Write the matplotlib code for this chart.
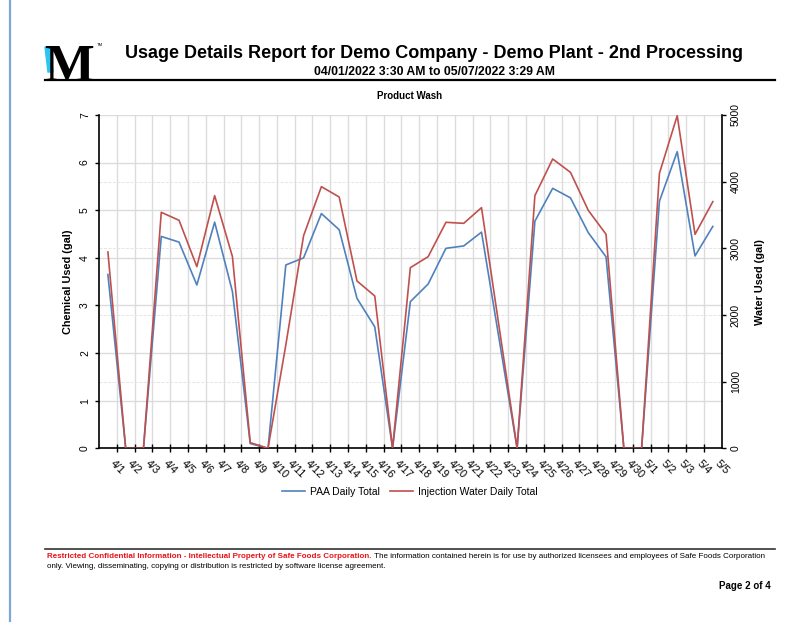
import matplotlib
matplotlib.use("Agg")
import matplotlib.pyplot as plt
from matplotlib.patches import Polygon
from matplotlib.lines import Line2D
import numpy as np

plt.rcParams['font.family'] = ['Liberation Sans', 'DejaVu Sans']

# Daily totals, 4/1 .. 5/5
dates = ["4/1", "4/2", "4/3", "4/4", "4/5", "4/6", "4/7", "4/8", "4/9", "4/10",
         "4/11", "4/12", "4/13", "4/14", "4/15", "4/16", "4/17", "4/18", "4/19", "4/20",
         "4/21", "4/22", "4/23", "4/24", "4/25", "4/26", "4/27", "4/28", "4/29", "4/30",
         "5/1", "5/2", "5/3", "5/4", "5/5"]
paa_gal = [3.65, 0, 0, 4.45, 4.33, 3.43, 4.75, 3.29, 0.1, 0,
           3.85, 4.0, 4.93, 4.59, 3.15, 2.55, 0, 3.08, 3.45, 4.2,
           4.25, 4.54, 2.27, 0, 4.77, 5.46, 5.26, 4.53, 4.02, 0,
           0, 5.19, 6.23, 4.04, 4.66]
water_gal = [2945, 0, 0, 3540, 3420, 2725, 3790, 2875, 85, 0,
             1550, 3190, 3925, 3770, 2510, 2285, 0, 2710, 2875, 3390,
             3375, 3610, 1800, 0, 3790, 4340, 4140, 3570, 3210, 0,
             0, 4125, 4990, 3210, 3700]
chem_ticks = [0, 1, 2, 3, 4, 5, 6, 7]
water_ticks = [0, 1000, 2000, 3000, 4000, 5000]

blue = "#4F81BD"
red = "#C0504D"
W, H = 802, 622

def fx(px):
    return px / W

def fy(py):
    return 1 - py / H

fig = plt.figure(figsize=(W / 100, H / 100), dpi=100)

# page border on the left
fig.add_artist(Line2D([fx(10), fx(10)], [0, 1], color="#7EA6D8", lw=1.6))

# logo
fig.text(fx(44), fy(81), "M", fontsize=38, fontweight="bold",
         family="Liberation Serif", color="black", ha="left", va="baseline")
fig.add_artist(Polygon([(fx(45), fy(47)), (fx(50), fy(47)), (fx(53), fy(72)), (fx(48), fy(72))],
                       closed=True, color="#2EC4F0", transform=fig.transFigure))
fig.text(fx(97), fy(45), "TM", fontsize=3, ha="left", va="center")

# header
fig.text(fx(434), fy(54), "Usage Details Report for Demo Company - Demo Plant - 2nd Processing",
         fontsize=13, fontweight="bold", ha="center", va="center")
fig.text(fx(435), fy(72), "04/01/2022 3:30 AM to 05/07/2022 3:29 AM",
         fontsize=8.8, fontweight="bold", ha="center", va="center")
fig.add_artist(Line2D([fx(45), fx(775)], [fy(79.5), fy(79.5)], color="black", lw=1.6))
fig.text(fx(410), fy(96), "Product Wash", fontsize=7, fontweight="bold",
         ha="center", va="center")

# chart
ax = fig.add_axes([fx(99), fy(448.3), fx(721.7 - 99), (448.3 - 115) / H])
x = np.arange(len(dates))
ax.plot(x, paa_gal, color=blue, lw=1.2, label="PAA Daily Total")
ax.set_xlim(-0.5, len(dates) - 0.5)
ax.set_ylim(0, 7)

ax.set_xticks(x)
ax.set_xticklabels(dates, rotation=-45, ha="left", va="top", fontsize=7.8)
ax.set_xticks(x[:-1] + 0.5, minor=True)
ax.tick_params(axis="x", which="major", length=0, pad=7)
ax.tick_params(axis="x", which="minor", length=6, direction="inout", width=1)

ax.set_yticks(chem_ticks)
ax.set_yticklabels([str(t) for t in chem_ticks], rotation=90, va="center", fontsize=7.5)
ax.set_yticks([t * 7 / 5000 for t in water_ticks[1:-1]], minor=True)
ax.tick_params(axis="y", which="major", length=3, direction="out", width=1)
ax.tick_params(axis="y", which="minor", length=0)

ax.grid(True, axis="x", which="minor", color="#DCDCDC", lw=1)
ax.grid(True, axis="y", which="major", color="#DCDCDC", lw=1)
ax.grid(True, axis="y", which="minor", color="#E2E2E2", lw=0.6, ls="--")
ax.set_axisbelow(True)

for side in ["top", "right"]:
    ax.spines[side].set_visible(False)
for side in ["left", "bottom"]:
    ax.spines[side].set_linewidth(1.2)
    ax.spines[side].set_color("black")

ax.set_ylabel("Chemical Used (gal)", fontsize=7.8, fontweight="bold", labelpad=5)

ax2 = ax.twinx()
ax2.plot(x, water_gal, color=red, lw=1.2, label="Injection Water Daily Total")
ax2.set_ylim(0, 5000)
ax2.set_yticks(water_ticks)
ax2.set_yticklabels([str(t) for t in water_ticks], rotation=90, va="center", fontsize=7.5)
ax2.tick_params(axis="y", length=3, direction="out", width=1)
for side in ["top", "left", "bottom"]:
    ax2.spines[side].set_visible(False)
ax2.spines["right"].set_linewidth(1.2)
ax2.spines["right"].set_color("black")
ax2.set_ylabel("Water Used (gal)", fontsize=7.8, fontweight="bold", labelpad=10)

handles = [Line2D([], [], color=blue, lw=1.2), Line2D([], [], color=red, lw=1.2)]
fig.legend(handles, ["PAA Daily Total", "Injection Water Daily Total"],
           loc="center", bbox_to_anchor=(fx(410), fy(492)), ncol=2, frameon=False,
           fontsize=7.5, handlelength=2.2, columnspacing=1.0, handletextpad=0.5)

# footer
fig.add_artist(Line2D([fx(45), fx(775)], [fy(549), fy(549)], color="#333333", lw=1.2))
red_txt = fig.text(fx(47), fy(556), "Restricted Confidential Information - Intellectual Property of Safe Foods Corporation.",
                   fontsize=5.75, fontweight="bold", color="#E8141B", ha="left", va="center")
ax.annotate(" The information contained herein is for use by authorized licensees and employees of Safe Foods Corporation",
            xy=(1, 0.5), xycoords=red_txt, fontsize=5.75, ha="left", va="center",
            annotation_clip=False)
fig.text(fx(47), fy(566), "only. Viewing, disseminating, copying or distribution is restricted by software license agreement.",
         fontsize=5.75, ha="left", va="center")
fig.text(fx(771), fy(586), "Page 2 of 4", fontsize=7, fontweight="bold", ha="right", va="center")

fig.savefig("out.png", dpi=100)
